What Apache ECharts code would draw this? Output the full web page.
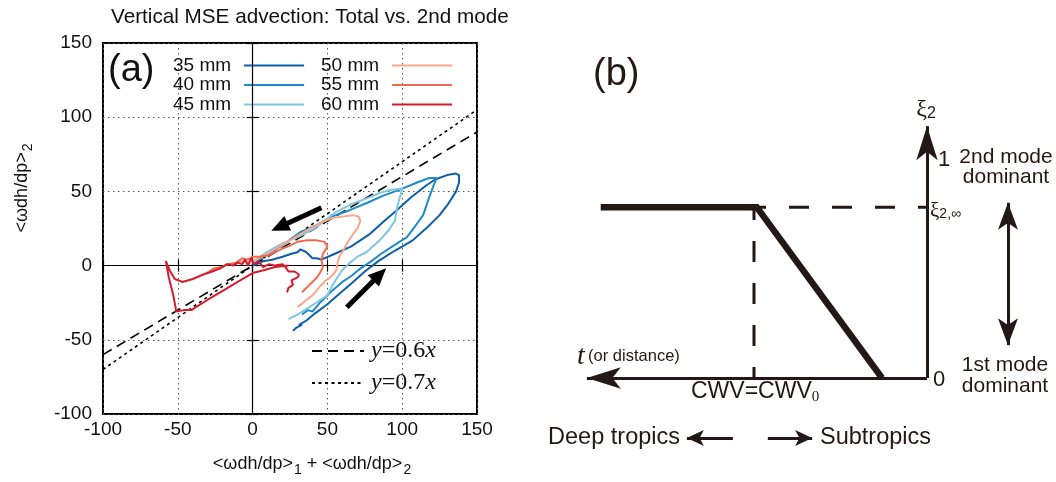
<!DOCTYPE html>
<html><head><meta charset="utf-8">
<script src="https://cdn.jsdelivr.net/npm/echarts/dist/echarts.min.js"></script>
<style>html,body{margin:0;padding:0;background:#fff}#c{width:1056px;height:482px}</style>
</head><body><div id="c"></div>
<script>
// ---------- panel (a) data ----------
const xTicks = [-100, -50, 0, 50, 100, 150];
const yTicks = [-100, -50, 0, 50, 100, 150];
const seriesNames = ['35 mm', '40 mm', '45 mm', '50 mm', '55 mm', '60 mm'];
const mm35 = [[27,-44],[29,-42],[33,-40],[31,-40],[36,-37],[42,-32],[50,-26],[58,-19],[66,-12],[75,-4],[84,3],[95,10],[107,17],[117,26],[125,34],[131,42],[136,50],[138,56],[138,61],[136,62],[130,61],[122,58],[116,54],[106,46],[96,37],[88,30],[78,21],[66,13],[55,8],[46,4],[43,5],[40,5],[36,9],[32,11],[30,9],[26,8],[20,6],[13,4],[7,3],[3,1],[0,0]];
const mm40 = [[33,-33],[37,-30],[40,-31],[45,-25],[52,-18],[60,-11],[66,-7],[72,-2],[78,2],[86,8],[95,14],[103,19],[109,27],[114,34],[118,46],[121,54],[123,59],[118,59],[110,56],[98,51],[87,47],[76,42],[64,37],[53,33],[42,27],[31,22],[22,15],[14,10],[7,6],[3,3],[0,1]];
const mm45 = [[24,-36],[30,-33],[38,-28],[44,-24],[50,-20],[53,-14],[56,-9],[60,-3],[64,1],[70,6],[76,9],[85,17],[91,24],[95,30],[97,41],[99,48],[100,52],[92,51],[85,49],[78,46],[65,41],[54,35],[43,26],[32,20],[20,15],[11,10],[5,6],[1,2]];
const mm50 = [[30,-28],[35,-24],[40,-20],[45,-14],[49,-10],[53,-7],[56,-3],[57,3],[58,6],[61,11],[63,15],[67,21],[70,25],[72,30],[71,33],[67,34],[60,33],[53,32],[46,29],[40,26],[30,20],[18,13],[10,8],[4,5],[-3,2],[-8,3],[-12,1],[-17,1],[-22,-2],[-27,-3],[-31,-5]];
const mm55 = [[33,-18],[37,-14],[40,-11],[43,-8],[45,-5],[47,-1],[46,4],[47,8],[49,11],[50,13],[48,16],[43,17],[36,17],[30,16],[26,14],[19,11],[11,7],[5,6],[0,6],[-3,4],[-7,5],[-11,2],[-16,1],[-21,-1],[-26,-2],[-29,-4]];
const mm60 = [[23,-18],[24,-15],[27,-13],[26,-10],[28,-9],[30,-8],[31,-6],[28,-4],[24,-4],[22,-1],[20,1],[15,0],[11,1],[7,-1],[4,3],[1,1],[-1,5],[-3,0],[-5,4],[-7,1],[-10,2],[-13,0],[-17,1],[-22,-2],[-27,-4],[-33,-6],[-40,-9],[-47,-11],[-52,-9],[-55,-4],[-58,3],[-56,-8],[-53,-20],[-51,-31],[-46,-30],[-41,-30],[-30,-23],[-20,-17],[-10,-11],[0,-5],[8,-3],[15,-1],[24,0]];
const ref06 = [[-100,-60],[150,90]];
const ref07 = [[-100,-70],[150,105]];
const arrowUp = [[46,39],[18,26]];
const arrowLow = [[63,-28],[85,-6]];

// ---------- panel (b) schematic values ----------
const xiInf = 0.78;      // xi_2,infinity level
const cwv0 = 5.0;        // position of CWV = CWV0
const thickPath = [[9.43, 0.78],[4.92, 0.78],[1.3, 0]];
const tAxisEnd = 9.83;
const xiAxisEnd = 1.15;
const modeArrowX = -2.34;
const modeArrowY = [0.80, 0.15];
const regionY = -0.274;
const deepArrow = [5.61, 6.94];
const subArrow = [4.6, 3.32];

const FONT = 'Liberation Sans, Arial, sans-serif';
const SERIF = 'Liberation Serif, Times New Roman, serif';
const INK = '#231815';

function loop(name, data, color) {
  return { name, type: 'line', data, xAxisIndex: 0, yAxisIndex: 0, symbol: 'none',
    lineStyle: { color, width: 2 }, itemStyle: { color }, z: 5, silent: true };
}

const option = {
  animation: false,
  backgroundColor: '#fff',
  title: { text: 'Vertical MSE advection: Total vs. 2nd mode', left: 106, top: 2,
    textStyle: { fontFamily: FONT, fontSize: 20.7, fontWeight: 'normal', color: '#111' } },
  grid: [
    { left: 103, right: 579, top: 43, bottom: 68, show: true, borderColor: '#000', borderWidth: 2, backgroundColor: 'transparent' },
    { left: 581, right: 25.2, top: 115.2, bottom: 16.4, show: false }
  ],
  xAxis: [
    { gridIndex: 0, type: 'value', min: xTicks[0], max: xTicks[xTicks.length-1], interval: 50, position: 'bottom',
      axisLine: { show: false }, axisTick: { show: true, inside: true, length: 6, lineStyle: { color: '#000', width: 1.2 } },
      axisLabel: { fontFamily: FONT, fontSize: 19, color: '#111', margin: 6 },
      splitLine: { show: true, lineStyle: { color: '#555', type: [1.5, 3.5], width: 1 } } },
    { gridIndex: 0, type: 'value', min: xTicks[0], max: xTicks[xTicks.length-1], interval: 50, position: 'top',
      axisLine: { show: false }, axisTick: { show: true, inside: true, length: 6, lineStyle: { color: '#000', width: 1.2 } },
      axisLabel: { show: false }, splitLine: { show: false } },
    { gridIndex: 1, type: 'value', min: -3, max: 10, inverse: true, show: false }
  ],
  yAxis: [
    { gridIndex: 0, type: 'value', min: yTicks[0], max: yTicks[yTicks.length-1], interval: 50, position: 'left',
      axisLine: { show: false }, axisTick: { show: true, inside: true, length: 6, lineStyle: { color: '#000', width: 1.2 } },
      axisLabel: { fontFamily: FONT, fontSize: 19, color: '#111', margin: 11 },
      splitLine: { show: true, lineStyle: { color: '#555', type: [1.5, 3.5], width: 1 } } },
    { gridIndex: 0, type: 'value', min: yTicks[0], max: yTicks[yTicks.length-1], interval: 50, position: 'right',
      axisLine: { show: false }, axisTick: { show: true, inside: true, length: 6, lineStyle: { color: '#000', width: 1.2 } },
      axisLabel: { show: false }, splitLine: { show: false } },
    { gridIndex: 1, type: 'value', min: -0.4, max: 1.2, show: false }
  ],
  legend: [
    { data: seriesNames.slice(0, 3), orient: 'vertical', left: 168, top: 51, align: 'right', itemWidth: 60, itemHeight: 20, itemGap: 0.5,
      selectedMode: false, itemStyle: { opacity: 0 },
      textStyle: { fontFamily: FONT, fontSize: 19, color: '#111', padding: [0, 8, 0, 0] } },
    { data: seriesNames.slice(3), orient: 'vertical', left: 316, top: 51, align: 'right', itemWidth: 60, itemHeight: 20, itemGap: 0.5,
      selectedMode: false, itemStyle: { opacity: 0 },
      textStyle: { fontFamily: FONT, fontSize: 19, color: '#111', padding: [0, 8, 0, 0] } },
    { data: ['y=0.6x', 'y=0.7x'], orient: 'vertical', left: 306, top: 334, itemWidth: 52, itemHeight: 24, itemGap: 8,
      selectedMode: false, itemStyle: { opacity: 0 },
      formatter: n => '{i|y}{n|=' + n.slice(2, 5) + '}{i|x}',
      textStyle: { padding: [0, 0, 0, 2], rich: {
        i: { fontFamily: SERIF, fontStyle: 'italic', fontSize: 24, color: '#111' },
        n: { fontFamily: SERIF, fontSize: 24, color: '#111' } } } }
  ],
  series: [
    { name: 'zero', type: 'line', data: [], xAxisIndex: 0, yAxisIndex: 0, silent: true, z: 2,
      markLine: { silent: true, symbol: 'none', label: { show: false }, animation: false,
        lineStyle: { color: '#000', type: 'solid', width: 1.2 },
        data: [{ xAxis: 0 }, { yAxis: 0 }] } },
    { name: 'y=0.6x', type: 'line', data: ref06, xAxisIndex: 0, yAxisIndex: 0, symbol: 'none', z: 3, silent: true,
      lineStyle: { color: '#000', width: 1.6, type: [10, 6] }, itemStyle: { color: '#000' } },
    { name: 'y=0.7x', type: 'line', data: ref07, xAxisIndex: 0, yAxisIndex: 0, symbol: 'none', z: 3, silent: true,
      lineStyle: { color: '#000', width: 1.6, type: [3, 3.5] }, itemStyle: { color: '#000' } },
    loop('35 mm', mm35, '#0e5fa9'),
    loop('40 mm', mm40, '#1b8cc7'),
    loop('45 mm', mm45, '#80c6e3'),
    loop('50 mm', mm50, '#fca589'),
    loop('55 mm', mm55, '#f1694d'),
    loop('60 mm', mm60, '#d31d2d'),
    { name: 'arrows', type: 'line', data: [], xAxisIndex: 0, yAxisIndex: 0, silent: true, z: 6,
      markLine: { silent: true, animation: false, label: { show: false },
        symbol: ['none', 'triangle'], symbolSize: [16, 18],
        lineStyle: { color: '#000', type: 'solid', width: 5 },
        data: [
          [{ coord: arrowUp[0] }, { coord: arrowUp[1] }],
          [{ coord: arrowLow[0] }, { coord: arrowLow[1] }]
        ] } },
    // ---- panel (b) ----
    { name: 'bThick', type: 'line', data: thickPath, xAxisIndex: 2, yAxisIndex: 2, symbol: 'none', silent: true, z: 4,
      lineStyle: { color: INK, width: 6.5, join: 'miter', cap: 'butt' } },
    { name: 'bDashH', type: 'line', data: [[0, xiInf], [cwv0, xiInf]], xAxisIndex: 2, yAxisIndex: 2, symbol: 'none', silent: true, z: 3,
      lineStyle: { color: INK, width: 3, type: [20, 23], dashOffset: 11 } },
    { name: 'bDashV', type: 'line', data: [[cwv0, 0], [cwv0, xiInf]], xAxisIndex: 2, yAxisIndex: 2, symbol: 'none', silent: true, z: 3,
      lineStyle: { color: INK, width: 3, type: [21, 21], dashOffset: 10 } },
    { name: 'bAxes', type: 'line', data: [], xAxisIndex: 2, yAxisIndex: 2, silent: true, z: 5,
      markLine: { silent: true, animation: false, label: { show: false },
        lineStyle: { color: INK, type: 'solid', width: 3 },
        data: [
          [{ coord: [0, 0], symbol: 'none' }, { coord: [tAxisEnd, 0], symbol: 'arrow', symbolSize: [16, 34] }],
          [{ coord: [0, 0], symbol: 'none' }, { coord: [0, xiAxisEnd], symbol: 'arrow', symbolSize: [16, 34] }],
          [{ coord: [modeArrowX, modeArrowY[0]], symbol: 'arrow', symbolSize: [15, 27] },
           { coord: [modeArrowX, modeArrowY[1]], symbol: 'arrow', symbolSize: [15, 27] }],
          [{ coord: [deepArrow[0], regionY], symbol: 'none' }, { coord: [deepArrow[1], regionY], symbol: 'arrow', symbolSize: [12, 17] }],
          [{ coord: [subArrow[0], regionY], symbol: 'none' }, { coord: [subArrow[1], regionY], symbol: 'arrow', symbolSize: [12, 17] }]
        ] } }
  ],
  graphic: [
    // panel (a) labels
    { type: 'text', x: 108, y: 71, silent: true, style: { text: '(a)', font: '38px ' + FONT, fill: '#111', align: 'left', verticalAlign: 'middle' } },
    { type: 'text', x: 22, y: 188, rotation: Math.PI / 2, silent: true,
      style: { text: '<ωdh/dp>{s|2}', font: '18px ' + FONT, fill: '#111', align: 'center', verticalAlign: 'middle',
        rich: { s: { fontFamily: FONT, fontSize: 14, padding: [12, 0, 0, 1], fill: '#111' } } } },
    { type: 'text', x: 312, y: 464, silent: true,
      style: { text: '<ωdh/dp>{s|1} + <ωdh/dp>{s|2}', font: '18px ' + FONT, fill: '#111', align: 'center', verticalAlign: 'middle',
        rich: { s: { fontFamily: FONT, fontSize: 14, padding: [12, 0, 0, 1], fill: '#111' } } } },
    // panel (b) labels
    { type: 'text', x: 593, y: 75, silent: true, style: { text: '(b)', font: '38px ' + FONT, fill: INK, align: 'left', verticalAlign: 'middle' } },
    { type: 'text', x: 926, y: 110, silent: true,
      style: { text: '{g|ξ}{s|2}', align: 'center', verticalAlign: 'middle',
        rich: { g: { fontFamily: SERIF, fontSize: 24, fill: INK }, s: { fontFamily: FONT, fontSize: 16, fill: INK, padding: [8, 0, 0, 0] } } } },
    { type: 'text', x: 938, y: 160, silent: true, style: { text: '1', font: '22px ' + FONT, fill: INK, align: 'left', verticalAlign: 'middle' } },
    { type: 'text', x: 1006, y: 167, silent: true, style: { text: '2nd mode\ndominant', font: '21px ' + FONT, lineHeight: 20, fill: INK, align: 'center', verticalAlign: 'middle' } },
    { type: 'text', x: 930, y: 211, silent: true,
      style: { text: '{g|ξ}{s|2,∞}', align: 'left', verticalAlign: 'middle',
        rich: { g: { fontFamily: SERIF, fontSize: 21, fill: INK }, s: { fontFamily: FONT, fontSize: 14, fill: INK, padding: [7, 0, 0, 0] } } } },
    { type: 'text', x: 933, y: 380, silent: true, style: { text: '0', font: '22px ' + FONT, fill: INK, align: 'left', verticalAlign: 'middle' } },
    { type: 'text', x: 1005, y: 376, silent: true, style: { text: '1st mode\ndominant', font: '21px ' + FONT, lineHeight: 21, fill: INK, align: 'center', verticalAlign: 'middle' } },
    { type: 'text', x: 577, y: 357, silent: true,
      style: { text: '{t|t} {s|(or distance)}', align: 'left', verticalAlign: 'middle',
        rich: { t: { fontFamily: SERIF, fontStyle: 'italic', fontSize: 28, fill: INK }, s: { fontFamily: FONT, fontSize: 16.5, fill: INK, padding: [0, 0, 2, 0] } } } },
    { type: 'text', x: 691, y: 392, silent: true,
      style: { text: 'CWV=CWV{s|0}', font: '23px ' + FONT, fill: INK, align: 'left', verticalAlign: 'middle',
        rich: { s: { fontFamily: SERIF, fontSize: 15, fill: INK, padding: [10, 0, 0, 0] } } } },
    { type: 'text', x: 680, y: 438, silent: true, style: { text: 'Deep tropics', font: '23.5px ' + FONT, fill: INK, align: 'right', verticalAlign: 'middle' } },
    { type: 'text', x: 820, y: 438, silent: true, style: { text: 'Subtropics', font: '23.5px ' + FONT, fill: INK, align: 'left', verticalAlign: 'middle' } }
  ]
};
const chart = echarts.init(document.getElementById('c'), null, { renderer: 'canvas' });
chart.setOption(option);
</script></body></html>
